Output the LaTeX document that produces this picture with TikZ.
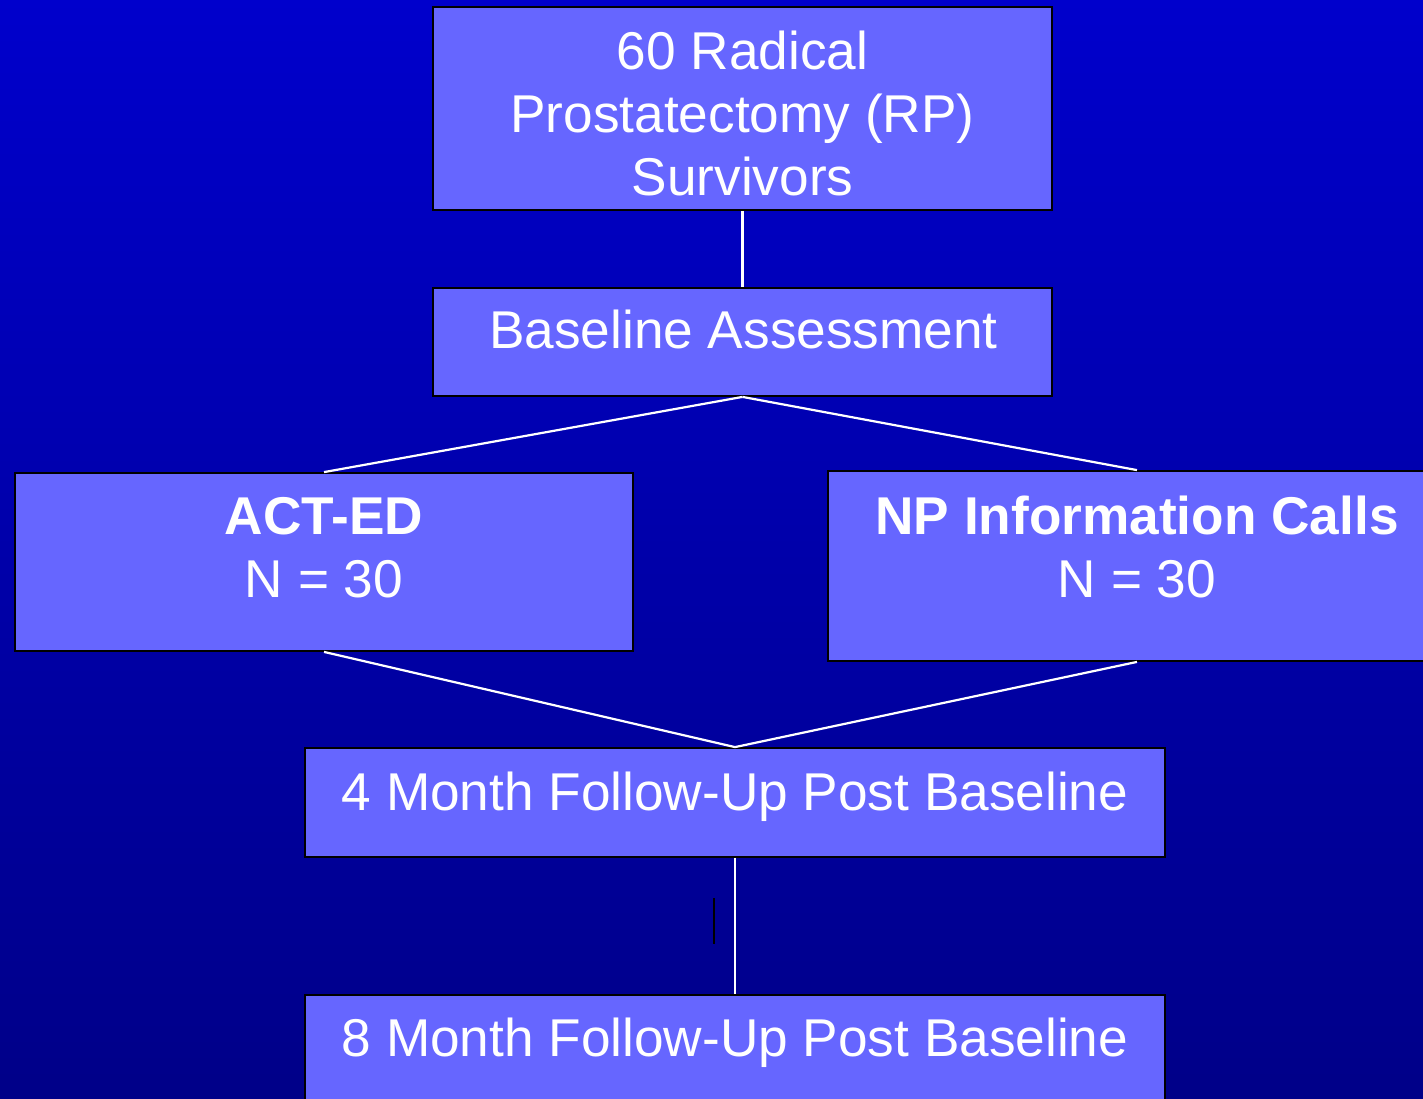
\documentclass[tikz,border=0pt]{standalone}
\usepackage{fontspec}
\setmainfont{Liberation Sans}
\definecolor{boxfill}{HTML}{6666FF}
\definecolor{bgtop}{HTML}{0000CC}
\definecolor{bgbot}{HTML}{000088}
\begin{document}
\begin{tikzpicture}[x=0.5pt,y=-0.5pt,
  box/.style={draw=black,line width=0.9pt,fill=boxfill,rectangle,inner sep=0pt},
  lbl/.style={text=white,align=center,anchor=base,inner sep=0pt,font=\fontsize{26.6}{31.5}\selectfont},
  link/.style={draw=white,line width=1.1pt}]
\fill[top color=bgtop,bottom color=bgbot] (0,0) rectangle (1423,1098);
\useasboundingbox (0,0) rectangle (1423,1098);
\node[box,minimum width=309.5pt,minimum height=101.5pt] (surv) at (742.5,108.5) {};
\node[box,minimum width=309.5pt,minimum height=54pt] (base) at (742.5,342) {};
\node[box,minimum width=309pt,minimum height=89pt] (act) at (324,562) {};
\node[box,minimum width=309pt,minimum height=95pt] (np) at (1137,566) {};
\node[box,minimum width=430pt,minimum height=54.5pt] (four) at (735,802.5) {};
\node[box,minimum width=430pt,minimum height=54.5pt] (eight) at (735,1049.5) {};
% base anchor sits on the last line
\node[lbl] (survtxt) at (742.5,195) {60 Radical\\Prostatectomy (RP)\\Survivors};
\node[lbl] (basetxt) at (743.5,348) {Baseline Assessment};
\node[lbl] (acttxt) at (324,597) {\textbf{ACT-ED}\\N = 30};
\node[lbl] (nptxt) at (1137,597) {\textbf{NP Information Calls}\\N = 30};
\node[lbl] (fourtxt) at (735,810) {4 Month Follow-Up Post Baseline};
\node[lbl] (eighttxt) at (735,1056) {8 Month Follow-Up Post Baseline};
\draw[link] (surv.south) -- (base.north);
\draw[link] (base.south) -- (act.north);
\draw[link] (base.south) -- (np.north);
\draw[link] (act.south) -- (four.north);
\draw[link] (np.south) -- (four.north);
\draw[link] (four.south) -- (eight.north);
\coordinate (stubtop) at (714,898);
\coordinate (stubbot) at (714,944);
\draw[black,line width=1.4pt] (stubtop) -- (stubbot);
\end{tikzpicture}
\end{document}
